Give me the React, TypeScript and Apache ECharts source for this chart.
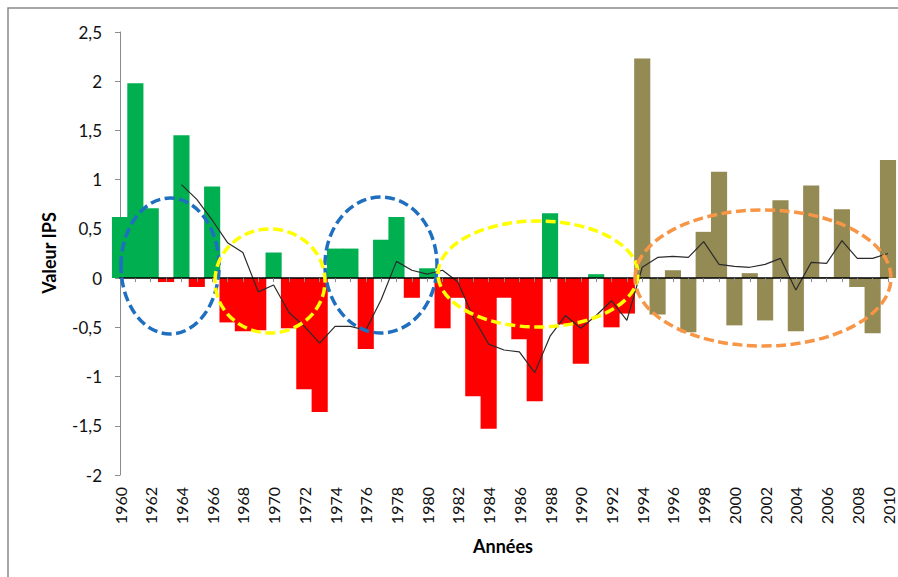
import React, { useEffect, useRef } from "react";
import * as echarts from "echarts";

const years: string[] = [
  "1960","1961","1962","1963","1964","1965","1966","1967","1968","1969",
  "1970","1971","1972","1973","1974","1975","1976","1977","1978","1979",
  "1980","1981","1982","1983","1984","1985","1986","1987","1988","1989",
  "1990","1991","1992","1993","1994","1995","1996","1997","1998","1999",
  "2000","2001","2002","2003","2004","2005","2006","2007","2008","2009","2010",
];

const ipsValues: number[] = [
  0.62, 1.98, 0.71, -0.04, 1.45, -0.09, 0.93, -0.45, -0.54, -0.53,
  0.26, -0.51, -1.13, -1.36, 0.30, 0.30, -0.72, 0.39, 0.62, -0.20,
  0.10, -0.51, -0.20, -1.20, -1.53, -0.20, -0.62, -1.25, 0.66, -0.47,
  -0.87, 0.04, -0.50, -0.36, 2.23, -0.37, 0.08, -0.55, 0.47, 1.08,
  -0.48, 0.05, -0.43, 0.79, -0.54, 0.94, 0.01, 0.70, -0.09, -0.56, 1.20,
];

const movingAvg: (number | null)[] = [
  null, null, null, null, 0.95, 0.80, 0.59, 0.36, 0.26, -0.14,
  -0.07, -0.35, -0.49, -0.66, -0.49, -0.49, -0.53, -0.22, 0.17, 0.08,
  0.04, 0.08, -0.04, -0.40, -0.67, -0.73, -0.75, -0.96, -0.59, -0.38,
  -0.51, -0.38, -0.23, -0.43, 0.11, 0.21, 0.22, 0.21, 0.37, 0.14,
  0.12, 0.11, 0.14, 0.20, -0.12, 0.16, 0.15, 0.38, 0.20, 0.20, 0.25,
];

const lastYearOfFirstPeriod = 1993;

const GREEN = "#00B050";
const RED = "#FF0000";
const OLIVE = "#948A54";
const FONT = "Lato, 'Open Sans', sans-serif";

export default function App() {
  const ref = useRef<HTMLDivElement>(null);

  useEffect(() => {
    document.body.style.margin = "0";
    if (!ref.current) return;
    const chart = echarts.init(ref.current, null, { renderer: "svg" });

    const barData = ipsValues.map((v, i) => {
      const y = parseInt(years[i], 10);
      const color = y > lastYearOfFirstPeriod ? OLIVE : v >= 0 ? GREEN : RED;
      return { value: v, itemStyle: { color } };
    });

    const dashed = (stroke: string) => ({
      fill: "none",
      stroke,
      lineWidth: 3.5,
      lineDash: [10, 4.5],
    });

    chart.setOption({
      animation: false,
      backgroundColor: "#fff",
      grid: { left: 120, right: 10, top: 32, bottom: 102, containLabel: false },
      xAxis: [
        {
          type: "category",
          data: years,
          boundaryGap: false,
          position: "bottom",
          axisLine: { show: true, onZero: true, lineStyle: { color: "#000", width: 1.6 } },
          axisTick: { show: true, interval: 0, length: 4, lineStyle: { color: "#8c8c8c" } },
          axisLabel: { show: false },
          splitLine: { show: false },
          z: 5,
        },
        {
          type: "category",
          data: years,
          boundaryGap: false,
          position: "bottom",
          axisLine: { show: false, onZero: false },
          axisTick: { show: false },
          axisLabel: {
            show: true,
            interval: 1,
            rotate: 90,
            margin: 12,
            fontSize: 16,
            fontFamily: FONT,
            color: "#111",
          },
          splitLine: { show: false },
        },
      ],
      yAxis: {
        type: "value",
        min: -2,
        max: 2.5,
        interval: 0.5,
        axisLine: { show: true, lineStyle: { color: "#8c8c8c", width: 1 } },
        axisTick: { show: true, length: 5, lineStyle: { color: "#8c8c8c" } },
        splitLine: { show: false },
        axisLabel: {
          margin: 18,
          fontSize: 17,
          fontFamily: FONT,
          color: "#111",
          formatter: (v: number) => String(v).replace(".", ","),
        },
      },
      series: [
        {
          type: "bar",
          xAxisIndex: 0,
          yAxisIndex: 0,
          data: barData,
          barWidth: "105%",
          clip: true,
          z: 2,
        },
        {
          type: "line",
          xAxisIndex: 0,
          yAxisIndex: 0,
          data: movingAvg,
          showSymbol: false,
          symbol: "none",
          connectNulls: false,
          lineStyle: { color: "#2b2b2b", width: 1.2 },
          z: 3,
        },
      ],
      graphic: [
        {
          type: "rect",
          shape: { x: 8, y: 8, width: 1000, height: 1000 },
          style: { fill: "none", stroke: "#8a8a8a", lineWidth: 1.5 },
          silent: true,
          z: 1,
        },
        { type: "ellipse", shape: { cx: 170, cy: 266, rx: 49, ry: 68 }, style: dashed("#1F6FC0"), z: 100 },
        { type: "ellipse", shape: { cx: 381, cy: 265, rx: 56, ry: 68 }, style: dashed("#1F6FC0"), z: 100 },
        { type: "ellipse", shape: { cx: 270, cy: 281, rx: 55, ry: 52 }, style: dashed("#FFFF00"), z: 100 },
        { type: "ellipse", shape: { cx: 538, cy: 274, rx: 100, ry: 53 }, style: dashed("#FFFF00"), z: 100 },
        { type: "ellipse", shape: { cx: 763, cy: 278, rx: 128, ry: 68 }, style: dashed("#F79646"), z: 100 },
        {
          type: "text",
          x: 49,
          y: 253,
          rotation: Math.PI / 2,
          style: {
            text: "Valeur IPS",
            fontSize: 18,
            fontWeight: "bold",
            fontFamily: FONT,
            fill: "#000",
            textAlign: "center",
            textVerticalAlign: "middle",
          },
          z: 100,
        },
        {
          type: "text",
          x: 503,
          y: 546,
          style: {
            text: "Années",
            fontSize: 18,
            fontWeight: "bold",
            fontFamily: FONT,
            fill: "#000",
            textAlign: "center",
            textVerticalAlign: "middle",
          },
          z: 100,
        },
      ],
    });

    return () => chart.dispose();
  }, []);

  return <div ref={ref} style={{ width: 898, height: 577 }} />;
}
